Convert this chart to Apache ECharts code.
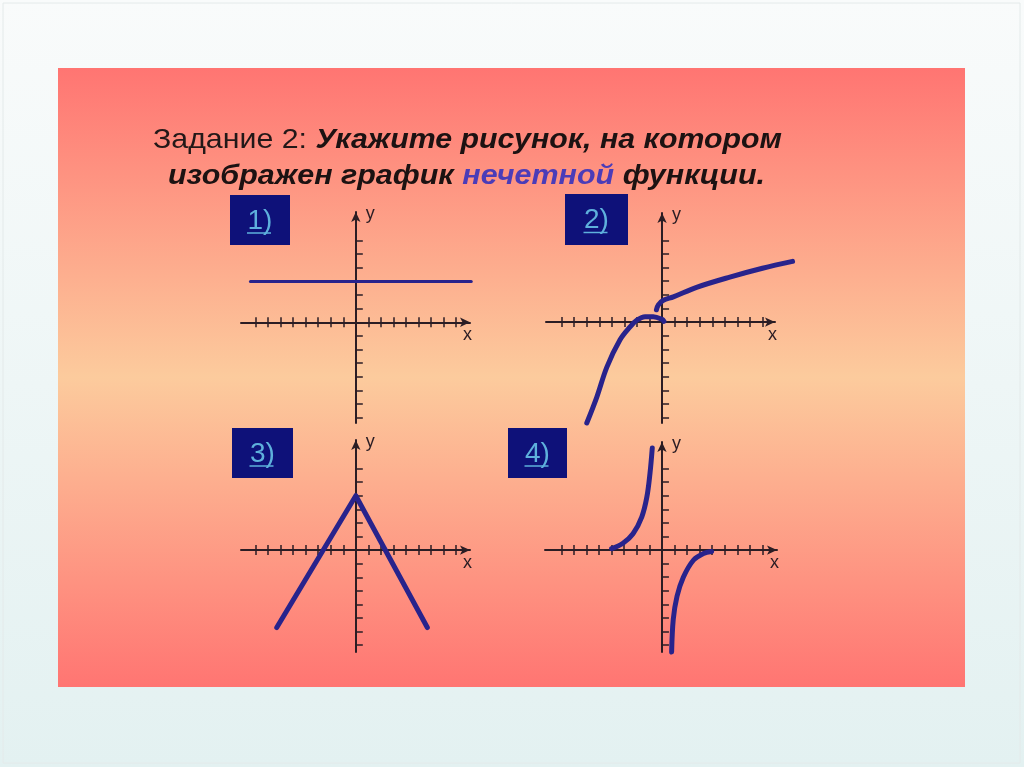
<!DOCTYPE html>
<html>
<head>
<meta charset="utf-8">
<script src="https://cdn.jsdelivr.net/npm/echarts@6/dist/echarts.min.js"></script>
<style>html,body{margin:0;padding:0;background:#fff;}#c{width:1024px;height:767px;}</style>
</head>
<body>
<div id="c"></div>
<script>
// ---- data ----
const xTicks = [-8,-7,-6,-5,-4,-3,-2,-1,1,2,3,4,5,6,7,8];
const yTicks = [-7,-6,-5,-4,-3,-2,-1,1,2,3,4,5,6];
const panelLabels = ['1)', '2)', '3)', '4)'];
const titleLine1 = ['Задание 2:', 'Укажите рисунок, на котором'];
const titleLine2 = ['изображен график ', 'нечетной', ' функции.'];

// graph 1: constant
const g1 = [[-8.4, 3], [9.2, 3]];
// graph 2: two branches
const g2a = [[-6.0,-7.4],[-5.2,-5.5],[-4.4,-3.3],[-3.35,-1.3],[-2.55,-0.35],[-2.0,0.15],[-1.35,0.4],[-0.7,0.4],[0,0.2],[0.15,0.05]];
const g2b = [[-0.45,0.9],[-0.3,1.25],[0.1,1.6],[0.9,1.85],[2.75,2.55],[5.4,3.3],[8.0,3.95],[10.4,4.45]];
// graph 3: peak
const g3 = [[-6.3,-5.7],[0,4],[5.7,-5.7]];
// graph 4: hyperbola-like branches
const g4a = [[-4.0,0.1],[-3.1,0.5],[-2.3,1.2],[-1.6,2.45],[-1.2,3.9],[-0.95,5.65],[-0.77,7.5]];
const g4b = [[3.95,-0.1],[3.3,-0.25],[2.5,-0.75],[1.7,-2.0],[1.2,-3.4],[0.9,-5.1],[0.77,-7.5]];

// ---- layout ----
const panels = [
  {grid:{left:241, top:212, width:229, height:211}, x:[-9.15,9.1], y:[-7.4,8.1], dataMaxX:9.6, box:[230,195,60,50]},
  {grid:{left:546, top:213, width:229, height:210}, x:[-9.25,9.0], y:[-7.4,8.0], dataMaxX:10.8, box:[565,194,63,51]},
  {grid:{left:241, top:440, width:229, height:212}, x:[-9.15,9.1], y:[-7.5,8.1], dataMaxX:9.1, box:[232,428,61,50]},
  {grid:{left:545, top:442, width:232, height:210}, x:[-9.3,9.15], y:[-7.5,7.95], dataMaxX:9.15, box:[508,428,59,50]}
];
const seriesData = [[g1],[g2a,g2b],[g3],[g4a,g4b]];
const seriesWidth = [3,5,5,5];
const seriesSmooth = [false,true,false,true];

const axisColor = '#2b1d24';
const curveColor = '#28238c';

const grid = [], xAxis = [], yAxis = [], series = [];
panels.forEach((p, i) => {
  grid.push(Object.assign({outerBoundsMode:'none', containLabel:false}, p.grid));
  xAxis.push({
    type:'value', gridIndex:i, min:p.x[0], max:p.x[1], position:'bottom',
    axisLine:{show:true, onZero:true, onZeroAxisIndex:i, symbol:['none','arrow'], symbolSize:[7,10], lineStyle:{color:axisColor, width:2}},
    axisTick:{show:true, inside:false, length:5, customValues:xTicks, lineStyle:{color:axisColor, width:1.5}},
    axisLabel:{show:false}, splitLine:{show:false},
    name:'x', nameLocation:'end', nameGap:-7,
    nameTextStyle:{color:axisColor, fontSize:18, fontFamily:'Liberation Sans', align:'left', verticalAlign:'top', padding:[4,0,0,0]}
  });
  xAxis.push({
    type:'value', gridIndex:i, min:p.x[0], max:p.x[1], position:'top',
    axisLine:{show:false, onZero:true, onZeroAxisIndex:i},
    axisTick:{show:true, inside:false, length:5, customValues:xTicks, lineStyle:{color:axisColor, width:1.5}},
    axisLabel:{show:false}, splitLine:{show:false}
  });
  yAxis.push({
    type:'value', gridIndex:i, min:p.y[0], max:p.y[1], position:'left',
    axisLine:{show:true, onZero:true, onZeroAxisIndex:2*i, symbol:['none','arrow'], symbolSize:[7,10], lineStyle:{color:axisColor, width:2}},
    axisTick:{show:true, inside:true, length:7, customValues:yTicks, lineStyle:{color:axisColor, width:1.5}},
    axisLabel:{show:false}, splitLine:{show:false},
    name:'y', nameLocation:'end', nameGap:-2,
    nameTextStyle:{color:axisColor, fontSize:18, fontFamily:'Liberation Sans', align:'left', verticalAlign:'middle', padding:[0,0,0,10]}
  });
});
// hidden data grids: same scale as the visible axes, extended to the right so curves may run past the arrow
panels.forEach((p, i) => {
  const g = p.grid;
  const w = g.width * (p.dataMaxX - p.x[0]) / (p.x[1] - p.x[0]);
  grid.push({outerBoundsMode:'none', containLabel:false, left:g.left, top:g.top, height:g.height, width:w});
  xAxis.push({type:'value', gridIndex:4+i, min:p.x[0], max:p.dataMaxX, show:false});
  yAxis.push({type:'value', gridIndex:4+i, min:p.y[0], max:p.y[1], show:false});
  seriesData[i].forEach(d => {
    series.push({
      type:'line', xAxisIndex:8+i, yAxisIndex:4+i, data:d, showSymbol:false, symbol:'none',
      smooth:seriesSmooth[i] ? 0.35 : false, clip:false, silent:true, z:3,
      lineStyle:{color:curveColor, width:seriesWidth[i], cap:'round', join:'round'}
    });
  });
});

// title text, fitted horizontally to the extent of the reference lines
const measureCtx = document.createElement('canvas').getContext('2d');
function textWidth(font, txt){ measureCtx.font = font; return measureCtx.measureText(txt).width; }
const FS = 28;
const regFont = FS + 'px "Liberation Sans"';
const boldFont = 'italic bold ' + FS + 'px "Liberation Sans"';
const wr = textWidth(regFont, titleLine1[0] + ' ');
const wb = textWidth(boldFont, titleLine1[1]);
const s1 = 629 / (wr + wb);
const s2 = 597 / textWidth(boldFont, titleLine2.join(''));
const boldStyle = {fontFamily:'Liberation Sans', fontSize:FS, fontWeight:'bold', fontStyle:'italic', fill:'#1c1212'};

const graphic = [
  {type:'rect', z:-10, shape:{x:0,y:0,width:1024,height:767},
   style:{fill:new echarts.graphic.LinearGradient(0,0,0,1,[{offset:0,color:'#f9fbfb'},{offset:1,color:'#e3f1f1'}])}},
  {type:'rect', z:-9, shape:{x:3,y:3,width:1017,height:760}, style:{fill:null, stroke:'#e4eaea', lineWidth:1}},
  {type:'rect', z:-8, shape:{x:58,y:68,width:907,height:619},
   style:{fill:new echarts.graphic.LinearGradient(0,0,0,1,[
     {offset:0,color:'#ff7572'},{offset:0.5,color:'#fccb9d'},{offset:1,color:'#ff7572'}])}},
  {type:'text', x:153, y:140, scaleX:s1, z:5, style:{
    text:titleLine1[0], fontFamily:'Liberation Sans', fontSize:FS, fill:'#231818', align:'left', verticalAlign:'middle'}},
  {type:'text', x:153 + wr * s1, y:140, scaleX:s1, z:5, style:Object.assign({
    text:titleLine1[1], align:'left', verticalAlign:'middle'}, boldStyle)},
  {type:'text', x:168, y:176, scaleX:s2, z:5, style:{
    text:'{b|' + titleLine2[0] + '}{p|' + titleLine2[1] + '}{b|' + titleLine2[2] + '}',
    align:'left', verticalAlign:'middle',
    rich:{
      b:Object.assign({}, boldStyle),
      p:Object.assign({}, boldStyle, {fill:'#4b3cb8'})
    }}}
];
panels.forEach((p, i) => {
  const [bx, by, bw, bh] = p.box;
  graphic.push({type:'rect', z:4, shape:{x:bx,y:by,width:bw,height:bh}, style:{fill:'#0e1179'}});
  graphic.push({type:'text', z:5, x:bx+bw/2, y:by+bh/2+1, style:{text:panelLabels[i], fontFamily:'Liberation Sans', fontSize:28, fill:'#5eb0dc', align:'center', verticalAlign:'middle'}});
  graphic.push({type:'line', z:5, shape:{x1:bx+bw/2-13, y1:by+bh/2+13, x2:bx+bw/2+11, y2:by+bh/2+13}, style:{stroke:'#5eb0dc', lineWidth:1.5}});
});

const chart = echarts.init(document.getElementById('c'), null, {renderer:'canvas'});
chart.setOption({animation:false, grid, xAxis, yAxis, series, graphic});
</script>
</body>
</html>
